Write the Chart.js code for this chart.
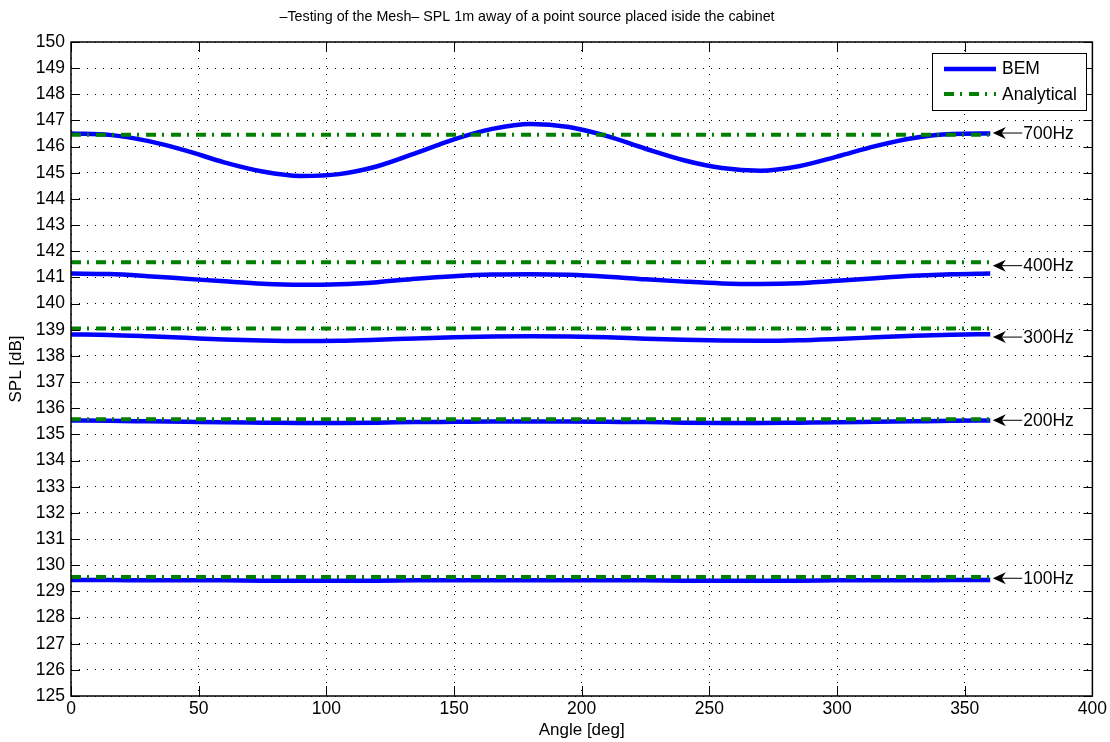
<!DOCTYPE html>
<html>
<head>
<meta charset="utf-8">
<script src="https://cdn.jsdelivr.net/npm/chart.js@4/dist/chart.umd.min.js"></script>
<style>
  html, body { margin: 0; padding: 0; background: #fff; }
  #wrap { width: 1110px; height: 742px; }
</style>
</head>
<body>
<div id="wrap"><canvas id="splChart" width="1110" height="742"></canvas></div>
<script>
// angle samples (deg)
const angles = [0, 15, 30, 45, 60, 75, 90, 105, 120, 135, 150, 165, 180,
                195, 210, 225, 240, 255, 270, 285, 300, 315, 330, 345, 360];

// BEM results (dB)
const bem700 = [146.50, 146.45, 146.22, 145.85, 145.40, 145.05, 144.88, 144.95, 145.25, 145.75, 146.28, 146.68, 146.87,
                146.75, 146.40, 145.92, 145.48, 145.18, 145.08, 145.25, 145.62, 146.02, 146.33, 146.48, 146.50];
const bem400 = [141.15, 141.13, 141.05, 140.95, 140.85, 140.76, 140.72, 140.74, 140.82, 140.95, 141.05, 141.11, 141.12,
                141.10, 141.03, 140.93, 140.84, 140.77, 140.75, 140.78, 140.87, 140.97, 141.06, 141.12, 141.15];
const bem300 = [138.82, 138.80, 138.75, 138.69, 138.63, 138.59, 138.57, 138.58, 138.62, 138.67, 138.71, 138.74, 138.75,
                138.74, 138.71, 138.66, 138.62, 138.59, 138.58, 138.60, 138.65, 138.71, 138.77, 138.81, 138.83];
const bem200 = [135.53, 135.52, 135.50, 135.48, 135.46, 135.45, 135.44, 135.44, 135.45, 135.47, 135.48, 135.49, 135.49,
                135.49, 135.48, 135.47, 135.45, 135.44, 135.44, 135.45, 135.46, 135.48, 135.50, 135.52, 135.53];
const bem100 = [129.43, 129.43, 129.42, 129.42, 129.42, 129.41, 129.41, 129.41, 129.41, 129.42, 129.42, 129.42, 129.42,
                129.42, 129.42, 129.42, 129.41, 129.41, 129.41, 129.41, 129.42, 129.42, 129.42, 129.43, 129.43];

// analytical levels (flat)
const analyticalFreqs = ['700Hz', '400Hz', '300Hz', '200Hz', '100Hz'];
const analyticalLevels = [146.45, 141.58, 139.05, 135.58, 129.55];
const analyticalSpan = [0, 360];

// arrow annotations
const annLabels = ['700Hz', '400Hz', '300Hz', '200Hz', '100Hz'];
const annLevels = [146.52, 141.45, 138.72, 135.54, 129.50];

const xTicks = [0, 50, 100, 150, 200, 250, 300, 350, 400];

const FONT = "'Liberation Sans', Arial, Helvetica, sans-serif";
const BLUE = '#0000ff';
const GREEN = '#008000';

const toPts = (xs, ys) => xs.map((x, i) => ({ x: x, y: ys[i] }));

const datasets = [];
analyticalLevels.forEach((lvl, i) => {
    datasets.push({
        label: i === 0 ? 'Analytical' : '_a' + analyticalFreqs[i],
        data: analyticalSpan.map(x => ({ x: x, y: lvl })),
        borderColor: GREEN,
        borderWidth: 4,
        borderDash: [10, 6, 2, 7],
        pointRadius: 0,
        tension: 0,
        order: 0
    });
});
[bem700, bem400, bem300, bem200, bem100].forEach((vals, i) => {
    datasets.push({
        label: i === 0 ? 'BEM' : '_b' + i,
        data: toPts(angles, vals),
        borderColor: BLUE,
        borderWidth: 4.5,
        pointRadius: 0,
        cubicInterpolationMode: 'monotone',
        order: 1
    });
});

// box, inward ticks, title, legend and arrows, MATLAB style
const matlabDecor = {
    id: 'matlabDecor',
    afterDraw(chart) {
        const ctx = chart.ctx;
        const a = chart.chartArea;
        const xs = chart.scales.x, ys = chart.scales.y;
        ctx.save();

        // axes box
        ctx.strokeStyle = '#000';
        ctx.lineWidth = 1.5;
        ctx.setLineDash([]);
        ctx.strokeRect(a.left, a.top, a.right - a.left, a.bottom - a.top);

        // inward ticks
        ctx.lineWidth = 1;
        ctx.beginPath();
        for (let v = 125; v <= 150; v++) {
            const y = Math.round(ys.getPixelForValue(v)) + 0.5;
            ctx.moveTo(a.left, y); ctx.lineTo(a.left + 9, y);
            ctx.moveTo(a.right, y); ctx.lineTo(a.right - 9, y);
        }
        xTicks.forEach(v => {
            const x = Math.round(xs.getPixelForValue(v)) + 0.5;
            ctx.moveTo(x, a.bottom); ctx.lineTo(x, a.bottom - 10);
            ctx.moveTo(x, a.top); ctx.lineTo(x, a.top + 10);
        });
        ctx.stroke();

        // title
        ctx.fillStyle = '#000';
        ctx.font = '14.3px ' + FONT;
        ctx.textAlign = 'center';
        ctx.textBaseline = 'middle';
        ctx.fillText('\u2013Testing of the Mesh\u2013 SPL 1m away of a point source placed iside the cabinet', 527, 17);

        // arrows with labels
        ctx.textAlign = 'left';
        ctx.font = '17.5px ' + FONT;
        annLabels.forEach((lab, i) => {
            const y = ys.getPixelForValue(annLevels[i]);
            const tip = xs.getPixelForValue(361);
            const tail = xs.getPixelForValue(372.5);
            ctx.strokeStyle = '#000';
            ctx.lineWidth = 1;
            ctx.beginPath();
            ctx.moveTo(tip + 4, y); ctx.lineTo(tail, y);
            ctx.stroke();
            ctx.beginPath();
            ctx.moveTo(tip, y);
            ctx.lineTo(tip + 13, y - 6);
            ctx.lineTo(tip + 9, y);
            ctx.lineTo(tip + 13, y + 6);
            ctx.closePath();
            ctx.fillStyle = '#000';
            ctx.fill();
            ctx.fillText(lab, tail + 1, y + 1);
        });

        // legend
        const lx = 932, ly = 53, lw = 154, lh = 57;
        ctx.fillStyle = '#fff';
        ctx.fillRect(lx, ly, lw, lh);
        ctx.strokeStyle = '#000';
        ctx.lineWidth = 1;
        ctx.strokeRect(lx + 0.5, ly + 0.5, lw, lh);
        ctx.lineWidth = 4.5;
        ctx.strokeStyle = BLUE;
        ctx.beginPath(); ctx.moveTo(944, 69); ctx.lineTo(996, 69); ctx.stroke();
        ctx.lineWidth = 4;
        ctx.strokeStyle = GREEN;
        ctx.setLineDash([10, 6, 2, 7]);
        ctx.beginPath(); ctx.moveTo(944, 94); ctx.lineTo(996, 94); ctx.stroke();
        ctx.setLineDash([]);
        ctx.fillStyle = '#000';
        ctx.font = '17.5px ' + FONT;
        ctx.fillText('BEM', 1002, 69);
        ctx.fillText('Analytical', 1002, 95);

        ctx.restore();
    }
};

const ctx = document.getElementById('splChart').getContext('2d');
new Chart(ctx, {
    type: 'line',
    data: { datasets: datasets },
    options: {
        responsive: false,
        animation: false,
        layout: { padding: { top: 42, right: 17, left: 0, bottom: 0 } },
        plugins: {
            legend: { display: false },
            title: { display: false },
            tooltip: { enabled: false }
        },
        scales: {
            x: {
                type: 'linear',
                min: 0,
                max: 400,
                afterFit: s => { s.height = 46; },
                afterBuildTicks: s => { s.ticks = xTicks.map(v => ({ value: v })); },
                ticks: { font: { family: FONT, size: 17.5 }, color: '#000', padding: 3, maxRotation: 0 },
                grid: { color: '#000', lineWidth: 1, drawTicks: false },
                border: { display: false, dash: [1, 7] },
                title: { display: true, text: 'Angle [deg]', font: { family: FONT, size: 17 }, color: '#000', padding: { top: 0, bottom: 1 } }
            },
            y: {
                min: 125,
                max: 150,
                afterFit: s => { s.width = 71; },
                ticks: { stepSize: 1, font: { family: FONT, size: 17.5 }, color: '#000', padding: 6 },
                grid: { color: '#000', lineWidth: 1, drawTicks: false },
                border: { display: false, dash: [1, 7] },
                title: { display: true, text: 'SPL [dB]', font: { family: FONT, size: 17 }, color: '#000', padding: { top: 6, bottom: 0 } }
            }
        }
    },
    plugins: [matlabDecor]
});
</script>
</body>
</html>
